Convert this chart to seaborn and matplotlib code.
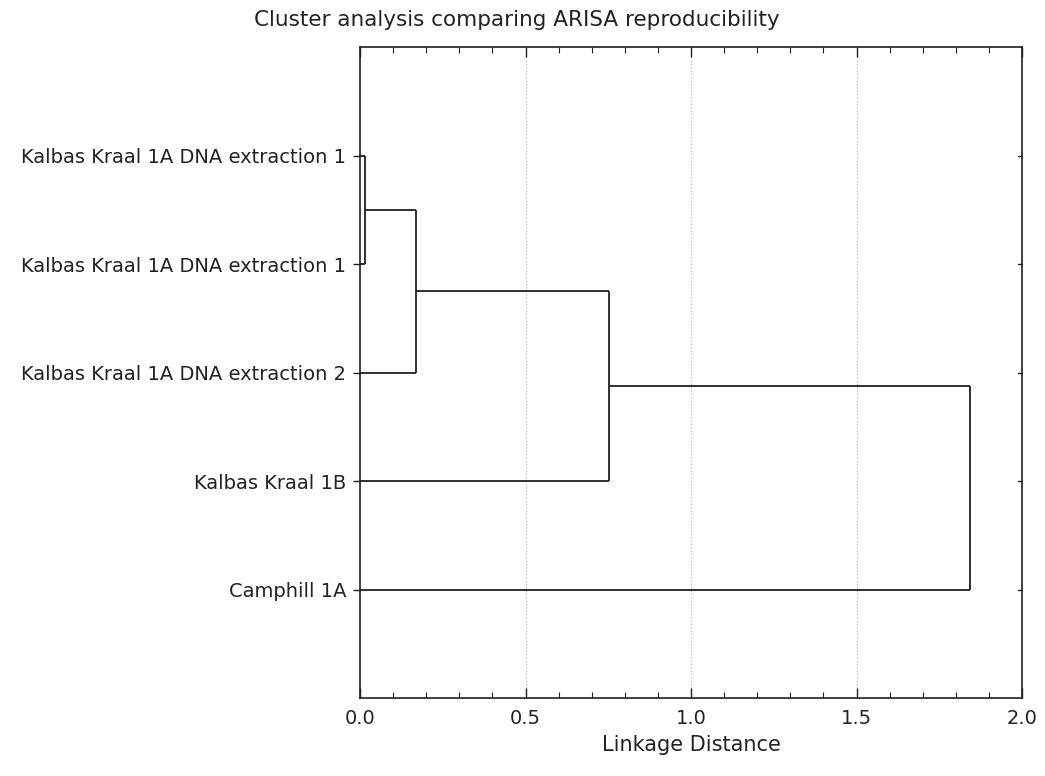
import matplotlib
matplotlib.use("Agg")
import matplotlib.pyplot as plt
import seaborn as sns
import numpy as np
from matplotlib.ticker import MultipleLocator

# ---- data ----
leaf_labels = [
    "Kalbas Kraal 1A DNA extraction 1",
    "Kalbas Kraal 1A DNA extraction 1",
    "Kalbas Kraal 1A DNA extraction 2",
    "Kalbas Kraal 1B",
    "Camphill 1A",
]
# merges: (left child, right child, linkage distance); children index leaves 0..4, nodes 5..
merge_left = [0, 5, 6, 7]
merge_right = [1, 2, 3, 4]
merge_dist = [0.015, 0.17, 0.752, 1.843]
xticks = [0.0, 0.5, 1.0, 1.5, 2.0]

sns.set_theme(style="white")
plt.rcParams["font.family"] = ["DejaVu Sans"]

FS = 14
TXT = "#222222"
fig = plt.figure(figsize=(10.45, 7.76), dpi=100)
ax = fig.add_axes([0.3445, 0.1005, 0.978 - 0.3445, 0.9394 - 0.1005])

# compute node positions
n = len(leaf_labels)
ypos = {i: i + 1 for i in range(n)}
xpos = {i: 0.0 for i in range(n)}
lc = "#202020"
for k, (a, b, d) in enumerate(zip(merge_left, merge_right, merge_dist)):
    node = n + k
    ya, yb = ypos[a], ypos[b]
    ax.plot([xpos[a], d], [ya, ya], color=lc, lw=1.3, solid_capstyle="butt")
    ax.plot([xpos[b], d], [yb, yb], color=lc, lw=1.3, solid_capstyle="butt")
    ax.plot([d, d], [ya, yb], color=lc, lw=1.3, solid_capstyle="butt")
    ypos[node] = (ya + yb) / 2
    xpos[node] = d

ax.set_xlim(0, 2.0)
ax.set_ylim(6, 0)
ax.set_yticks(range(1, n + 1))
ax.set_yticklabels(leaf_labels, fontsize=FS, color=TXT)
ax.set_xticks(xticks)
ax.set_xticklabels([f"{v:.1f}" for v in xticks], fontsize=FS, color=TXT)
ax.xaxis.set_minor_locator(MultipleLocator(0.1))

ax.grid(False)
for v in xticks[1:-1]:
    ax.axvline(v, color="#aaaaaa", lw=0.8, ls=(0, (1, 2)), zorder=0)

for s in ax.spines.values():
    s.set_visible(True)
    s.set_color("#202020")
    s.set_linewidth(1.2)

ax.tick_params(axis="x", which="major", direction="in", length=7, width=1,
               top=True, bottom=True, color="#202020", pad=8)
ax.tick_params(axis="x", which="minor", direction="in", length=4, width=0.8,
               top=True, bottom=True, color="#202020")
ax.tick_params(axis="y", which="major", direction="out", length=5, width=1,
               left=True, right=False, color="#202020", pad=5)
# inward ticks on the right side
for y in range(1, n + 1):
    ax.plot([2.0 - 0.012, 2.0], [y, y], color="#202020", lw=1, clip_on=False)

ax.set_xlabel("Linkage Distance", fontsize=15, color=TXT, labelpad=5)
fig.suptitle("Cluster analysis comparing ARISA reproducibility", fontsize=15.5,
             color=TXT, x=0.495, y=0.987)

fig.savefig("out.png", dpi=100)
